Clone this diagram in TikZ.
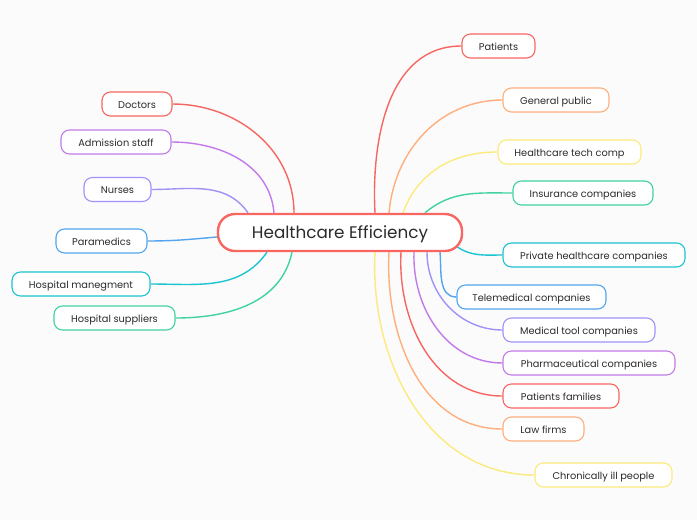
\documentclass[tikz,border=0pt]{standalone}
\usepackage{fontspec}
\setmainfont{Poppins}
\definecolor{cred}{HTML}{F86661}
\definecolor{cpurple}{HTML}{C27AE8}
\definecolor{cperi}{HTML}{9E93F7}
\definecolor{cblue}{HTML}{52A5EE}
\definecolor{ccyan}{HTML}{1CC3D0}
\definecolor{cgreen}{HTML}{40D39E}
\definecolor{corange}{HTML}{FFAE7C}
\definecolor{cyellow}{HTML}{FCEB7C}
\definecolor{ctext}{HTML}{2B2B2B}
\definecolor{cbg}{HTML}{FBFBFC}
\pgfdeclarelayer{bg}
\pgfsetlayers{bg,main}
\tikzset{
  leaf/.style={draw=#1, line width=1.1pt, fill=white, rounded corners=8.5pt,
    minimum height=24pt, inner sep=0pt, text=ctext, text height=8.8pt, text depth=0pt,
    font=\fontsize{9.8}{11}\selectfont},
  conn/.style={draw=#1, line width=1.4pt},
  hub/.style={draw=cred, line width=2.4pt, fill=white, rounded corners=17pt,
    minimum width=244pt, minimum height=37pt, inner sep=0pt, text=ctext,
    text height=14pt, text depth=2pt, font=\fontsize{16.8}{19}\selectfont}
}
\begin{document}
\begin{tikzpicture}[x=1pt,y=-1pt]
\begin{pgfonlayer}{bg}
\fill[cbg] (0,0) rectangle (697,520);
\end{pgfonlayer}
\useasboundingbox (0,0) rectangle (697,520);
\node[hub] (hc) at (340,232.5) {Healthcare Efficiency};
% left leaves
\node[leaf=cred, minimum width=70pt] (doc) at (137,104) {Doctors};
\node[leaf=cpurple, minimum width=110pt] (adm) at (116,142) {Admission staff};
\node[leaf=cperi, minimum width=67pt] (nur) at (117.5,189.5) {Nurses};
\node[leaf=cblue, minimum width=91pt] (par) at (101.5,241) {Paramedics};
\node[leaf=ccyan, minimum width=138pt] (hm) at (81,284) {Hospital manegment};
\node[leaf=cgreen, minimum width=121pt] (hs) at (114.5,318) {Hospital suppliers};
% right leaves
\node[leaf=cred, minimum width=73pt] (pat) at (498.5,46) {Patients};
\node[leaf=corange, minimum width=106pt] (gp) at (556,100) {General public};
\node[leaf=cyellow, minimum width=143pt] (htc) at (569.5,152) {Healthcare tech comp};
\node[leaf=cgreen, minimum width=140pt] (ins) at (583,193) {Insurance companies};
\node[leaf=ccyan, minimum width=182pt] (phc) at (594,255) {Private healthcare companies};
\node[leaf=cblue, minimum width=149pt] (tel) at (531.5,297) {Telemedical companies};
\node[leaf=cperi, minimum width=152pt] (mtc) at (579,330) {Medical tool companies};
\node[leaf=cpurple, minimum width=172pt] (phar) at (589,363) {Pharmaceutical companies};
\node[leaf=cred, minimum width=116pt] (pf) at (561,396) {Patients families};
\node[leaf=corange, minimum width=81pt] (law) at (543.5,429) {Law firms};
\node[leaf=cyellow, minimum width=137pt] (chr) at (603.5,475) {Chronically ill people};
% connectors, behind the nodes
\begin{pgfonlayer}{bg}
\draw[conn=cred] ([xshift=-46pt]hc.north) to[out=90,in=0] (doc.east);
\draw[conn=cpurple] ([xshift=-66pt]hc.north) to[out=95,in=0] (adm.east);
\draw[conn=cperi] ([xshift=-92pt]hc.north) to[out=125,in=0] (nur.east);
\draw[conn=cblue] ([yshift=-4.5pt]hc.west) to[out=185,in=0] (par.east);
\draw[conn=ccyan] ([xshift=-73pt]hc.south) to[out=235,in=0] (hm.east);
\draw[conn=cgreen] ([xshift=-48pt]hc.south) to[out=258,in=0] (hs.east);
\draw[conn=cred] ([xshift=35pt]hc.north) to[out=93,in=180] (pat.west);
\draw[conn=corange] ([xshift=49pt]hc.north) to[out=85,in=180] (gp.west);
\draw[conn=cyellow] ([xshift=63pt]hc.north) to[out=70,in=180] (htc.west);
\draw[conn=cgreen] ([xshift=85pt]hc.north) to[out=40,in=180] (ins.west);
\draw[conn=ccyan] ([xshift=-7pt,yshift=6pt]hc.south east) to[out=-35,in=180] (phc.west);
\draw[conn=cblue] ([xshift=100pt]hc.south) to[out=-85,in=180] (tel.west);
\draw[conn=cperi] ([xshift=87pt]hc.south) to[out=-90,in=180] (mtc.west);
\draw[conn=cpurple] ([xshift=74pt]hc.south) to[out=-92,in=180] (phar.west);
\draw[conn=cred] ([xshift=61pt]hc.south) to[out=-93,in=180] (pf.west);
\draw[conn=corange] ([xshift=49pt]hc.south) to[out=-93,in=180] (law.west);
\draw[conn=cyellow] ([xshift=35pt]hc.south) to[out=-93,in=180] (chr.west);
\end{pgfonlayer}
\end{tikzpicture}
\end{document}
